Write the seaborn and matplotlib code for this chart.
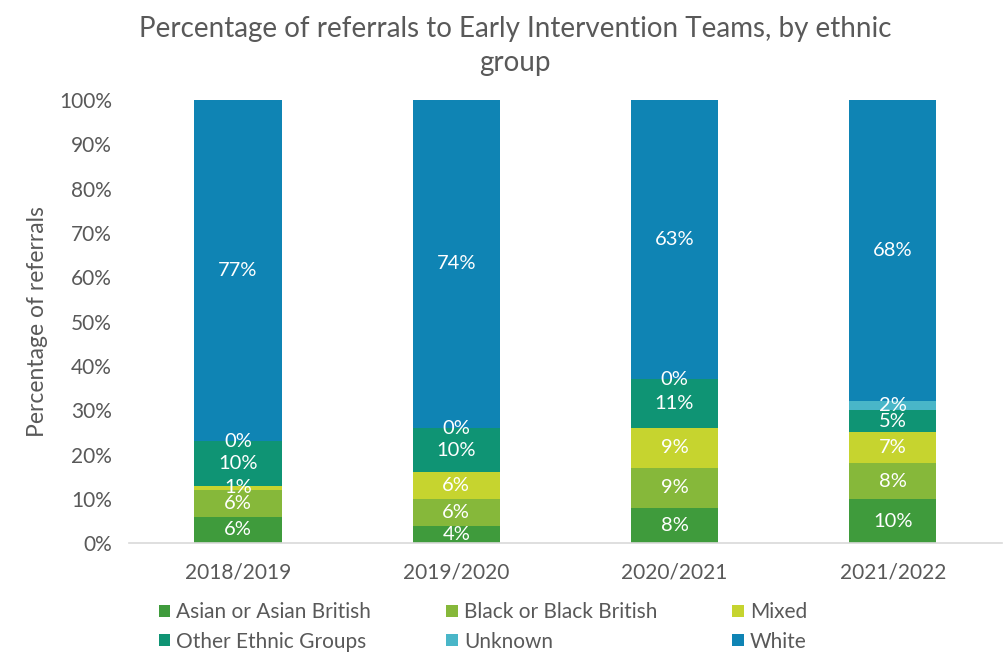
import numpy as np
import pandas as pd
import matplotlib
matplotlib.use("Agg")
import matplotlib.pyplot as plt
import seaborn as sns
from matplotlib.patches import Patch

years = ["2018/2019", "2019/2020", "2020/2021", "2021/2022"]
groups = ["Asian or Asian British", "Black or Black British", "Mixed",
          "Other Ethnic Groups", "Unknown", "White"]
asian = [6, 4, 8, 10]
black = [6, 6, 9, 8]
mixed = [1, 6, 9, 7]
other = [10, 10, 11, 5]
unknown = [0, 0, 0, 2]
white = [77, 74, 63, 68]
colors = ["#3f9b3c", "#86b83a", "#c6d42f", "#0f9474", "#49b6c8", "#0f84b4"]

series = [asian, black, mixed, other, unknown, white]
values = np.array(series, dtype=float)
tops = values.cumsum(axis=0)
bottoms = tops - values

sns.set_theme(style="white")
plt.rcParams["font.family"] = ["Lato", "DejaVu Sans"]

fig = plt.figure(figsize=(10.06, 6.53), dpi=100)
ax = fig.add_axes([0.128, 0.168, 0.868, 0.679])

# stacked bars: draw cumulative totals from the top layer down
for i in range(len(groups) - 1, -1, -1):
    df = pd.DataFrame({"year": years, "total": tops[i]})
    sns.barplot(data=df, x="year", y="total", color=colors[i], width=0.40,
                saturation=1, ax=ax, linewidth=0)

# segment labels
for i in range(len(groups)):
    for j in range(len(years)):
        y = bottoms[i, j] + values[i, j] / 2
        ax.text(j, y, f"{int(values[i, j])}%", ha="center", va="center",
                color="white", fontsize=14.5)

ax.set_ylim(0, 100)
ax.set_xlim(-0.5, 3.5)
ax.set_yticks(np.arange(0, 101, 10))
ax.set_yticklabels([f"{v}%" for v in range(0, 101, 10)])
ax.tick_params(axis="both", labelsize=15, colors="#595959", length=0)
ax.tick_params(axis="y", pad=12)
ax.tick_params(axis="x", pad=14)
ax.set_xlabel("")
ax.set_ylabel("Percentage of referrals", fontsize=16.5, color="#595959", labelpad=8)
for s in ["top", "right", "left"]:
    ax.spines[s].set_visible(False)
ax.spines["bottom"].set_color("#d9d9d9")
ax.spines["bottom"].set_linewidth(1.2)

fig.suptitle("Percentage of referrals to Early Intervention Teams, by ethnic\ngroup",
             x=0.512, y=0.975, fontsize=20, color="#595959", linespacing=1.35)

# legend entries arranged row by row across three columns
order = [0, 3, 1, 4, 2, 5]
handles = [Patch(facecolor=colors[k], edgecolor="none") for k in order]
labels = [groups[k] for k in order]
fig.legend(handles, labels, ncol=3, loc="center", bbox_to_anchor=(0.48, 0.04),
           frameon=False, fontsize=15, labelcolor="#595959",
           handlelength=0.55, handleheight=0.55, handletextpad=0.3,
           columnspacing=3.6, labelspacing=0.45)

fig.savefig("out.png", dpi=100, facecolor="white")
